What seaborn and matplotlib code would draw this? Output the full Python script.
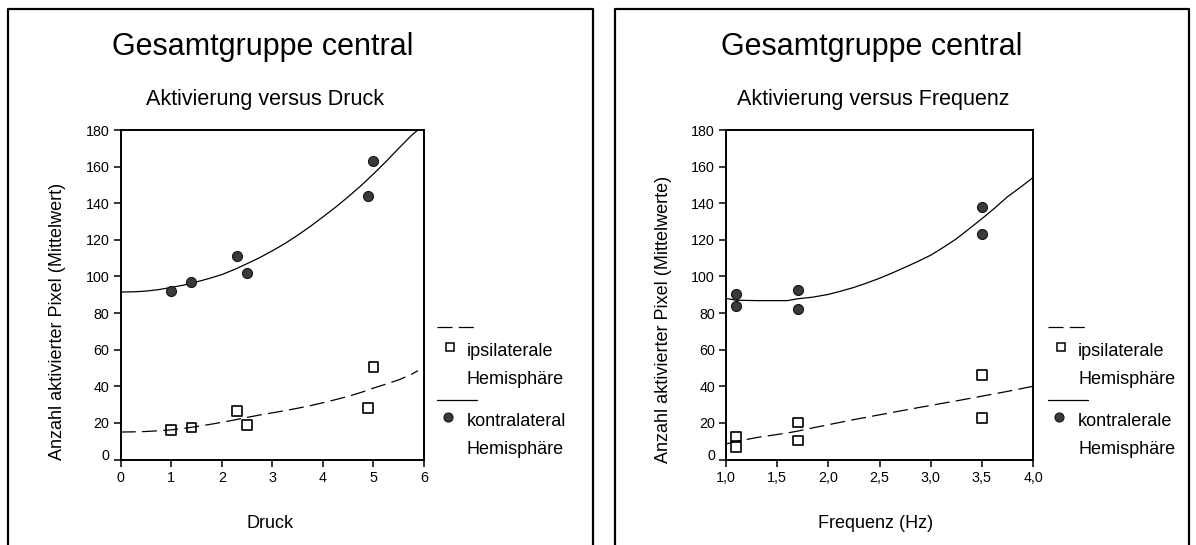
import numpy as np
import pandas as pd
import matplotlib
matplotlib.use("Agg")
import matplotlib.pyplot as plt
from matplotlib.lines import Line2D
from matplotlib.transforms import ScaledTranslation
import seaborn as sns

# ---------------- data ----------------
main_title = "Gesamtgruppe central"

# left panel: Aktivierung versus Druck
druck_x = [1.0, 1.4, 2.3, 2.5, 4.9, 5.0]
druck_ipsi = [16, 17.5, 26.5, 19, 28, 50.5]
druck_kontra = [92, 96.8, 111.3, 102, 144, 163]
druck_fit_x = [0, 0.25, 0.5, 0.75, 1.0, 1.25, 1.5, 1.75, 2.0, 2.25, 2.5, 2.75,
               3.0, 3.25, 3.5, 3.75, 4.0, 4.25, 4.5, 4.75, 5.0, 5.25, 5.5,
               5.75, 5.88]
druck_fit_kontra = [91.5, 91.6, 92, 92.8, 94, 95.3, 97, 98.9, 101, 103.8, 107,
                    110.3, 114, 118, 122.5, 127.3, 132.5, 137.8, 143.5, 149.5,
                    156, 162.8, 170, 177, 180]
druck_fit_ipsi = [15, 15.1, 15.3, 15.7, 16.2, 17, 18, 19.1, 20.3, 21.6, 23,
                  24.3, 25.5, 26.7, 28, 29.4, 31, 32.7, 34.5, 36.6, 39, 41.2,
                  43.5, 46.5, 48.5]
druck_ticks = [0, 1, 2, 3, 4, 5, 6]
druck_ticklabels = ["0", "1", "2", "3", "4", "5", "6"]

# right panel: Aktivierung versus Frequenz
freq_x = [1.1, 1.1, 1.7, 1.7, 3.5, 3.5]
freq_ipsi = [12.6, 6.7, 20.2, 10.4, 46.3, 22.6]
freq_kontra = [90.6, 83.7, 92.8, 82.1, 137.8, 123.4]
freq_fit_x = [1.0, 1.1, 1.3, 1.6, 1.7, 1.85, 2.0, 2.125, 2.25, 2.375, 2.5,
              2.625, 2.75, 2.875, 3.0, 3.125, 3.25, 3.375, 3.5, 3.625, 3.75,
              3.875, 4.0]
freq_fit_kontra = [88, 87, 86.8, 86.8, 87.8, 88.7, 90.2, 92, 94, 96.4, 99,
                   101.9, 105, 108.2, 111.6, 115.9, 120.5, 126, 131.5, 137.3,
                   143.5, 148.6, 154]
freq_fit_ipsi = [8.5, 9.8, 12, 14.5, 15.5, 17.3, 19, 20.4, 21.8, 23.1, 24.4,
                 25.7, 27, 28.3, 29.5, 30.8, 32, 33.3, 34.6, 35.9, 37.2,
                 38.6, 40]
freq_ticks = [1.0, 1.5, 2.0, 2.5, 3.0, 3.5, 4.0]
freq_ticklabels = ["1,0", "1,5", "2,0", "2,5", "3,0", "3,5", "4,0"]

y_ticks = [0, 20, 40, 60, 80, 100, 120, 140, 160, 180]

panels = [
    dict(sub="Aktivierung versus Druck", xlabel="Druck",
         ylabel="Anzahl aktivierter Pixel (Mittelwert)",
         x=druck_x, ipsi=druck_ipsi, kontra=druck_kontra,
         fx=druck_fit_x, fk=druck_fit_kontra, fi=druck_fit_ipsi,
         ticks=druck_ticks, ticklabels=druck_ticklabels, xlim=(0, 6),
         leg2="kontralateral"),
    dict(sub="Aktivierung versus Frequenz", xlabel="Frequenz (Hz)",
         ylabel="Anzahl aktivierter Pixel (Mittelwerte)",
         x=freq_x, ipsi=freq_ipsi, kontra=freq_kontra,
         fx=freq_fit_x, fk=freq_fit_kontra, fi=freq_fit_ipsi,
         ticks=freq_ticks, ticklabels=freq_ticklabels, xlim=(1.0, 4.0),
         leg2="kontralerale"),
]

# ---------------- style ----------------
sns.set_style("white")
plt.rcParams["font.family"] = ["Liberation Sans", "DejaVu Sans"]
plt.rcParams["text.color"] = "black"

W, H = 1196, 545
fig = plt.figure(figsize=(W / 100, H / 100), dpi=100)


def fx_(px):
    return px / W


def fy_(py):
    return 1 - py / H


layout = [
    dict(ax=(120.7, 424, 130, 459.5), box=(8, 593), title_x=263, sub_x=265,
         xl_x=270, yl_x=57, yl_y=321, leg_x=437),
    dict(ax=(726, 1033, 130, 459.5), box=(615, 1189), title_x=872, sub_x=873,
         xl_x=876, yl_x=663, yl_y=319, leg_x=1048),
]

dash = (0, (12, 5))
kontra_face = "#3a3a3a"
kontra_edge = "#151515"

for p, L in zip(panels, layout):
    l, r, t, b = L["ax"]
    ax = fig.add_axes([fx_(l), fy_(b), fx_(r - l), (b - t) / H])

    # fit curves
    sns.lineplot(x=p["fx"], y=p["fk"], ax=ax, color="black", lw=0.9,
                 estimator=None, sort=False)
    sns.lineplot(x=p["fx"], y=p["fi"], ax=ax, color="black", lw=0.9,
                 estimator=None, sort=False, linestyle=dash)
    # points
    sns.scatterplot(x=p["x"], y=p["ipsi"], ax=ax, marker="s", s=50,
                    facecolor="none", edgecolor="black", linewidth=1.2,
                    zorder=5)
    sns.scatterplot(x=p["x"], y=p["kontra"], ax=ax, marker="o", s=52,
                    color=kontra_face, edgecolor=kontra_edge, linewidth=0.8,
                    zorder=5)

    ax.set_xlim(*p["xlim"])
    ax.set_ylim(0, 180)
    ax.set_xticks(p["ticks"])
    ax.set_xticklabels(p["ticklabels"])
    ax.set_yticks(y_ticks)
    ax.set_yticklabels([str(v) for v in y_ticks])
    ax.tick_params(axis="both", direction="out", length=5, width=1.1,
                   colors="black", labelsize=10.3, pad=3, bottom=True,
                   left=True)
    for s in ax.spines.values():
        s.set_visible(True)
        s.set_color("black")
        s.set_linewidth(1.4)
    ax.set_xlabel("")
    ax.set_ylabel("")
    # the "0" label sits slightly above the axis in the original
    zero_lab = ax.get_yticklabels()[0]
    zero_lab.set_transform(zero_lab.get_transform() +
                           ScaledTranslation(0, 5 / 100, fig.dpi_scale_trans))

    # titles and labels
    fig.text(fx_(L["title_x"]), fy_(47), main_title, fontsize=22,
             ha="center", va="center")
    fig.text(fx_(L["sub_x"]), fy_(99), p["sub"], fontsize=15.5,
             ha="center", va="center")
    fig.text(fx_(L["xl_x"]), fy_(523), p["xlabel"], fontsize=13,
             ha="center", va="center")
    fig.text(fx_(L["yl_x"]), fy_(L["yl_y"]), p["ylabel"], fontsize=13,
             ha="center", va="center", rotation=90)

    # panel frame (left, top, right)
    x0, x1 = L["box"]
    fig.add_artist(Line2D([fx_(x0), fx_(x0), fx_(x1), fx_(x1)],
                          [fy_(H + 5), fy_(9), fy_(9), fy_(H + 5)],
                          color="black", lw=1.6, transform=fig.transFigure))

    # legend
    lx = L["leg_x"]
    fig.add_artist(Line2D([fx_(lx), fx_(lx + 40)], [fy_(327), fy_(327)],
                          color="black", lw=0.9, linestyle=dash,
                          transform=fig.transFigure))
    fig.add_artist(Line2D([fx_(lx + 13)], [fy_(347)], marker="s",
                          markersize=6, markerfacecolor="none",
                          markeredgecolor="black", markeredgewidth=1.1,
                          linestyle="none", transform=fig.transFigure))
    fig.text(fx_(lx + 30), fy_(351), "ipsilaterale", fontsize=13,
             ha="left", va="center")
    fig.text(fx_(lx + 30), fy_(379), "Hemisphäre", fontsize=13,
             ha="left", va="center")
    fig.add_artist(Line2D([fx_(lx), fx_(lx + 40)], [fy_(400), fy_(400)],
                          color="black", lw=0.9, transform=fig.transFigure))
    fig.add_artist(Line2D([fx_(lx + 11)], [fy_(417)], marker="o",
                          markersize=6.5, markerfacecolor=kontra_face,
                          markeredgecolor=kontra_edge, markeredgewidth=0.8,
                          linestyle="none", transform=fig.transFigure))
    fig.text(fx_(lx + 30), fy_(421), p["leg2"], fontsize=13,
             ha="left", va="center")
    fig.text(fx_(lx + 30), fy_(449), "Hemisphäre", fontsize=13,
             ha="left", va="center")

fig.savefig("out.png", dpi=100)
